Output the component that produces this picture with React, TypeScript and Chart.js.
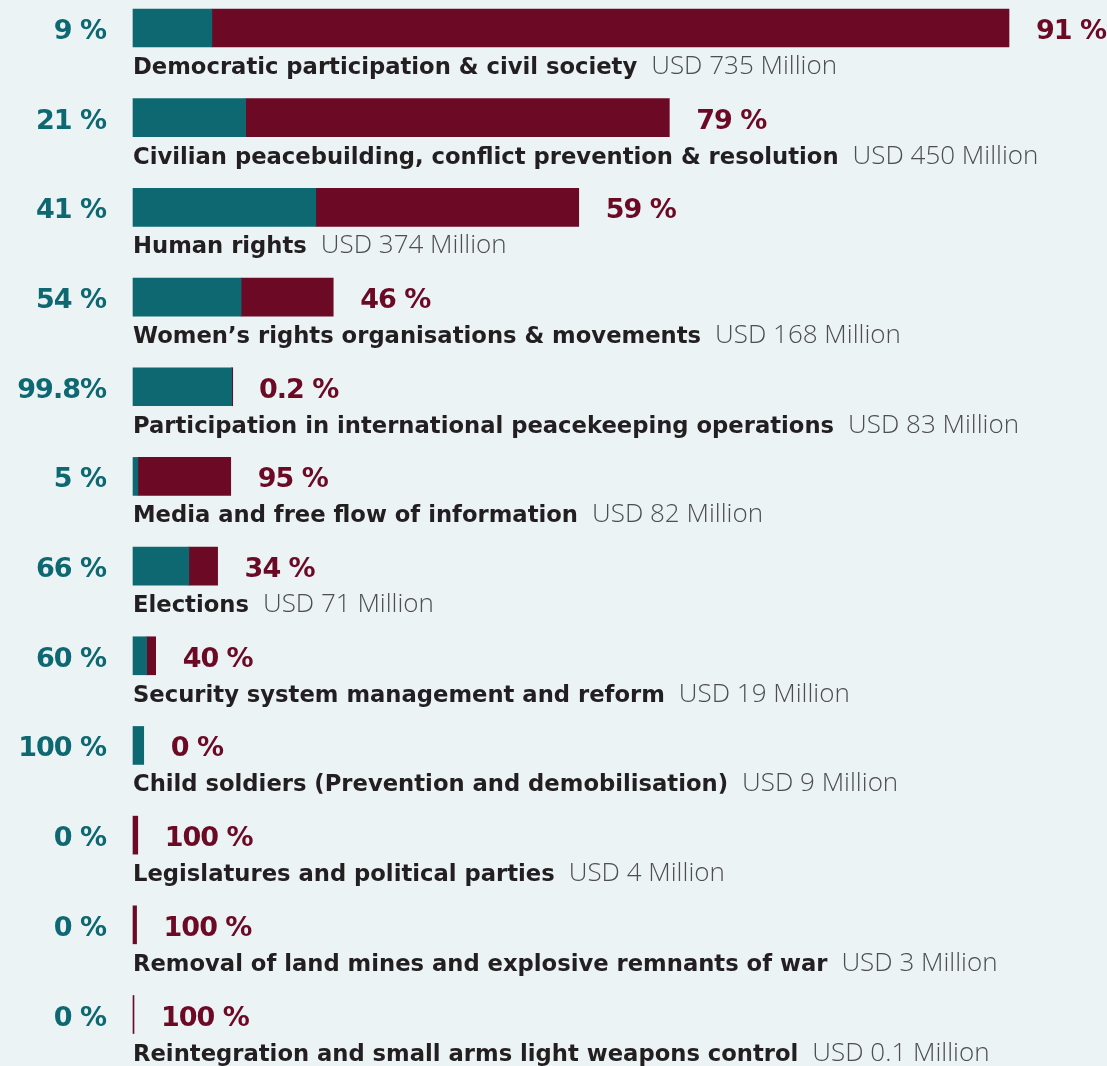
import React, { useEffect, useRef } from "react";
import { Chart, registerables } from "chart.js";

Chart.register(...registerables);

const categories = [
  "Democratic participation & civil society",
  "Civilian peacebuilding, conflict prevention & resolution",
  "Human rights",
  "Women’s rights organisations & movements",
  "Participation in international peacekeeping operations",
  "Media and free flow of information",
  "Elections",
  "Security system management and reform",
  "Child soldiers (Prevention and demobilisation)",
  "Legislatures and political parties",
  "Removal of land mines and explosive remnants of war",
  "Reintegration and small arms light weapons control",
];
const totalsUSDm = [735, 450, 374, 168, 83, 82, 71, 19, 9, 4, 3, 0.1];
const amountLabels = [
  "USD 735 Million",
  "USD 450 Million",
  "USD 374 Million",
  "USD 168 Million",
  "USD 83 Million",
  "USD 82 Million",
  "USD 71 Million",
  "USD 19 Million",
  "USD 9 Million",
  "USD 4 Million",
  "USD 3 Million",
  "USD 0.1 Million",
];
const tealPct = [9, 21, 41, 54, 99.8, 5, 66, 60, 100, 0, 0, 0];
const redPct = [91, 79, 59, 46, 0.2, 95, 34, 40, 0, 100, 100, 100];
const tealLabels = ["9 %", "21 %", "41 %", "54 %", "99.8%", "5 %", "66 %", "60 %", "100 %", "0 %", "0 %", "0 %"];
const redLabels = ["91 %", "79 %", "59 %", "46 %", "0.2 %", "95 %", "34 %", "40 %", "0 %", "100 %", "100 %", "100 %"];

const TEAL = "#0E6871";
const RED = "#6C0A26";
const BG = "#EBF3F5";
const W = 1107;
const H = 1066;

export default function App() {
  const ref = useRef<HTMLCanvasElement | null>(null);
  useEffect(() => {
    document.body.style.margin = "0";
    document.body.style.background = BG;
    const canvas = ref.current!;
    const tealData = totalsUSDm.map((t, i) => (tealPct[i] > 0 ? (t * tealPct[i]) / 100 : null));
    const redData = totalsUSDm.map((t, i) => (redPct[i] > 0 ? (t * redPct[i]) / 100 : null));

    const labelPlugin = {
      id: "labels",
      beforeDraw(chart: any) {
        const c = chart.ctx;
        c.save();
        c.fillStyle = BG;
        c.fillRect(0, 0, chart.width, chart.height);
        c.restore();
      },
      afterDatasetsDraw(chart: any) {
        const c = chart.ctx;
        const xs = chart.scales.x;
        const ys = chart.scales.y;
        c.save();
        categories.forEach((cat, i) => {
          const yc = ys.getPixelForValue(i);
          const x0 = xs.getPixelForValue(0);
          let xe = xs.getPixelForValue(totalsUSDm[i]);
          if (xe < x0 + 1) xe = x0 + 1;
          c.textBaseline = "alphabetic";
          c.font = "bold 27px 'DejaVu Sans'";
          (c as any).letterSpacing = "-1px";
          c.fillStyle = TEAL;
          c.textAlign = "right";
          c.fillText(tealLabels[i], 106, yc + 11);
          c.fillStyle = RED;
          c.textAlign = "left";
          c.fillText(redLabels[i], xe + 27, yc + 11);
          (c as any).letterSpacing = "0px";
          c.font = "bold 22.7px 'DejaVu Sans'";
          c.fillStyle = "#231F20";
          c.fillText(cat, x0, yc + 46);
          const w = c.measureText(cat).width;
          c.font = "300 26px 'Open Sans'";
          c.fillStyle = "#4E4E4E";
          c.fillText(amountLabels[i], x0 + w + 14, yc + 46);
        });
        c.restore();
      },
    };

    const chart = new Chart(canvas, {
      type: "bar",
      data: {
        labels: categories,
        datasets: [
          {
            label: "teal",
            data: tealData,
            backgroundColor: TEAL,
            barThickness: 38,
            borderWidth: 0,
            clip: false as any,
          },
          {
            label: "red",
            data: redData,
            backgroundColor: RED,
            barThickness: 38,
            borderWidth: 0,
            minBarLength: 1,
            clip: false as any,
          },
        ],
      },
      options: {
        indexAxis: "y",
        responsive: false,
        animation: false,
        devicePixelRatio: 1,
        layout: { padding: { left: 133, right: 0, top: 28, bottom: H - 1014.5 } },
        plugins: { legend: { display: false }, tooltip: { enabled: false } },
        scales: {
          x: { stacked: true, display: false, min: 0, max: (W - 133) / (876 / 735) },
          y: { stacked: true, display: false, offset: false },
        },
      },
      plugins: [labelPlugin],
    });
    return () => chart.destroy();
  }, []);
  return (
    <div style={{ width: W, height: H, background: BG }}>
      <canvas ref={ref} width={W} height={H} style={{ display: "block" }} />
    </div>
  );
}
